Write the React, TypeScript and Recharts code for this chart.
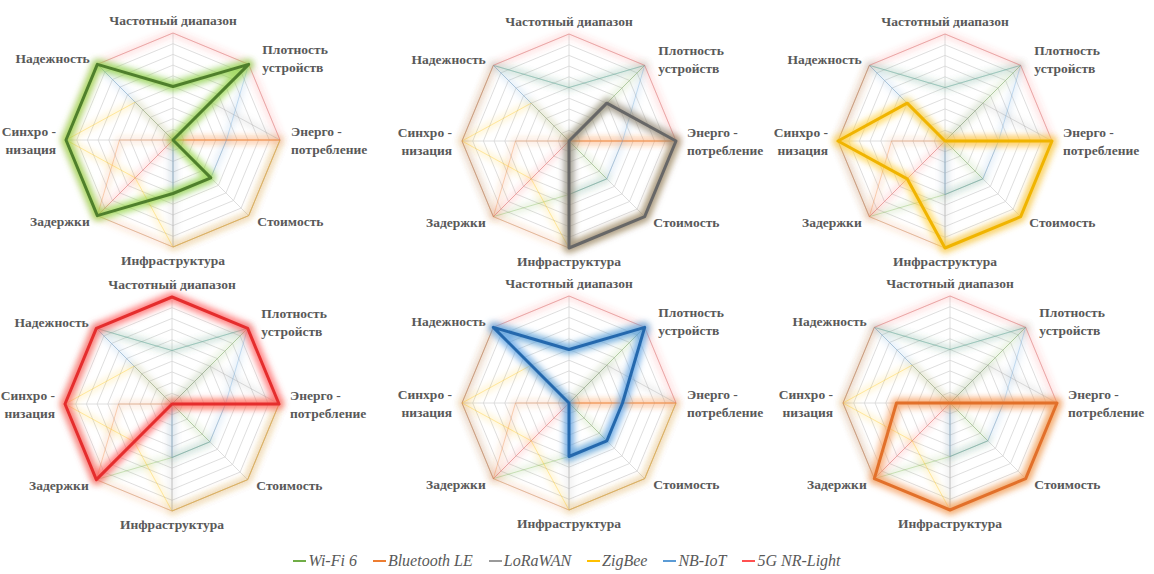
import { PolarAngleAxis, PolarGrid, PolarRadiusAxis, Radar, RadarChart } from 'recharts';

const categories = [
  'Частотный диапазон',
  'Плотность\nустройств',
  'Энерго -\nпотребление',
  'Стоимость',
  'Инфраструктура',
  'Задержки',
  'Синхро -\nнизация',
  'Надежность'
];

const wifi6 = [5, 10, 0, 5, 5, 10, 10, 10];
const bluetoothLE = [0, 0, 10, 10, 10, 10, 5, 0];
const loraWAN = [0, 5, 10, 10, 10, 0, 0, 0];
const zigBee = [0, 0, 10, 10, 10, 5, 10, 5];
const nbIoT = [5, 10, 5, 5, 5, 0, 0, 10];
const nrLight = [10, 10, 10, 0, 0, 10, 10, 10];

const seriesNames = ['Wi-Fi 6', 'Bluetooth LE', 'LoRaWAN', 'ZigBee', 'NB-IoT', '5G NR-Light'];
const seriesValues = [wifi6, bluetoothLE, loraWAN, zigBee, nbIoT, nrLight];

const data = categories.map((c, i) => {
  const row: Record<string, string | number> = { axis: c };
  seriesNames.forEach((s, k) => {
    row[s] = seriesValues[k][i];
  });
  return row;
});

const colors: Record<string, { base: string; core: string; glow: string }> = {
  'Wi-Fi 6': { base: '#70ad47', core: '#4f7f2c', glow: '#8fd23a' },
  'Bluetooth LE': { base: '#ed7d31', core: '#e2702a', glow: '#f59a55' },
  LoRaWAN: { base: '#9a9a9a', core: '#676767', glow: '#8f8470' },
  ZigBee: { base: '#ffc000', core: '#f0b400', glow: '#ffd040' },
  'NB-IoT': { base: '#5b9bd5', core: '#2468ad', glow: '#4f9ae0' },
  '5G NR-Light': { base: '#ff5050', core: '#e52d2d', glow: '#ff5a5a' }
};

// left, top, cx, cy, highlighted series
const panels = [
  { left: 0, top: 0, cx: 173, cy: 140, main: 'Wi-Fi 6' },
  { left: 385, top: 0, cx: 184, cy: 141, main: 'LoRaWAN' },
  { left: 770, top: 0, cx: 175, cy: 141, main: 'ZigBee' },
  { left: 0, top: 270, cx: 172, cy: 134, main: '5G NR-Light' },
  { left: 385, top: 270, cx: 184, cy: 133, main: 'NB-IoT' },
  { left: 770, top: 270, cx: 180, cy: 133, main: 'Bluetooth LE' }
];

const labelFont = "'Liberation Serif', 'DejaVu Serif', 'Noto Serif', serif";

function AngleTick(props: any) {
  const { x, y, payload, textAnchor, index } = props;
  const lines = String(payload.value).split('\n');
  let firstY = y - (lines.length - 1) * 9 + 4.5;
  let dx = textAnchor === 'start' ? 3 : textAnchor === 'end' ? -2 : 0;
  if (index === 0) firstY = y;
  if (index === 4) firstY = y + 10;
  if (index === 1) dx = 8;
  return (
    <text
      x={x + dx}
      y={firstY}
      textAnchor={textAnchor}
      fill='#595959'
      style={{ fontFamily: labelFont, fontWeight: 'bold', fontSize: 13.5 }}
    >
      {lines.map((l, i) => (
        <tspan key={i} x={x + dx} y={firstY + i * 18}>
          {l}
        </tspan>
      ))}
    </text>
  );
}

function Panel({ cx, cy, main }: { cx: number; cy: number; main: string }) {
  const others = seriesNames.filter((s) => s !== main);
  return (
    <RadarChart width={385} height={270} data={data} cx={cx} cy={cy} outerRadius={107}>
      <PolarGrid gridType='polygon' stroke='#d6d6d6' strokeWidth={0.8} />
      <PolarRadiusAxis domain={[0, 10]} tickCount={11} tick={false} axisLine={false} />
      <PolarAngleAxis dataKey='axis' tick={AngleTick} tickLine={false} axisLine={false} />

      {others.map((s) => (
        <Radar
          key={s + '-glow'}
          dataKey={s}
          className='soft'
          stroke={colors[s].base}
          strokeWidth={7}
          strokeOpacity={0.16}
          strokeLinejoin='round'
          fill='none'
          isAnimationActive={false}
        />
      ))}
      {others.map((s) => (
        <Radar
          key={s}
          dataKey={s}
          stroke={colors[s].base}
          strokeWidth={1}
          strokeOpacity={0.32}
          fill='none'
          isAnimationActive={false}
        />
      ))}

      <Radar
        dataKey={main}
        className='soft'
        stroke={colors[main].glow}
        strokeWidth={10}
        strokeOpacity={0.75}
        strokeLinejoin='round'
        fill='none'
        isAnimationActive={false}
      />
      <Radar
        dataKey={main}
        stroke={colors[main].core}
        strokeWidth={3}
        strokeLinejoin='round'
        fill='none'
        isAnimationActive={false}
      />
    </RadarChart>
  );
}

function App() {
  return (
    <div
      style={{
        position: 'absolute',
        left: 0,
        top: 0,
        width: 1154,
        height: 574,
        background: '#fff',
        overflow: 'hidden'
      }}
    >
      <style>{`.soft path, .soft polygon { filter: url(#softBlur); }`}</style>
      <svg width={0} height={0} style={{ position: 'absolute' }}>
        <defs>
          <filter id='softBlur' x='-20%' y='-20%' width='140%' height='140%'>
            <feGaussianBlur stdDeviation='3' />
          </filter>
        </defs>
      </svg>

      {panels.map((p) => (
        <div key={p.main} style={{ position: 'absolute', left: p.left, top: p.top }}>
          <Panel cx={p.cx} cy={p.cy} main={p.main} />
        </div>
      ))}

      <div
        style={{
          position: 'absolute',
          left: 0,
          top: 552,
          width: 1134,
          display: 'flex',
          justifyContent: 'center',
          gap: 16,
          fontFamily: labelFont,
          fontStyle: 'italic',
          fontSize: 16,
          color: '#595959'
        }}
      >
        {seriesNames.map((s) => (
          <div key={s} style={{ display: 'flex', alignItems: 'center' }}>
            <span
              style={{
                display: 'inline-block',
                width: 13,
                height: 2,
                background: colors[s].base,
                marginRight: 2
              }}
            />
            {s}
          </div>
        ))}
      </div>
    </div>
  );
}

export default App;
